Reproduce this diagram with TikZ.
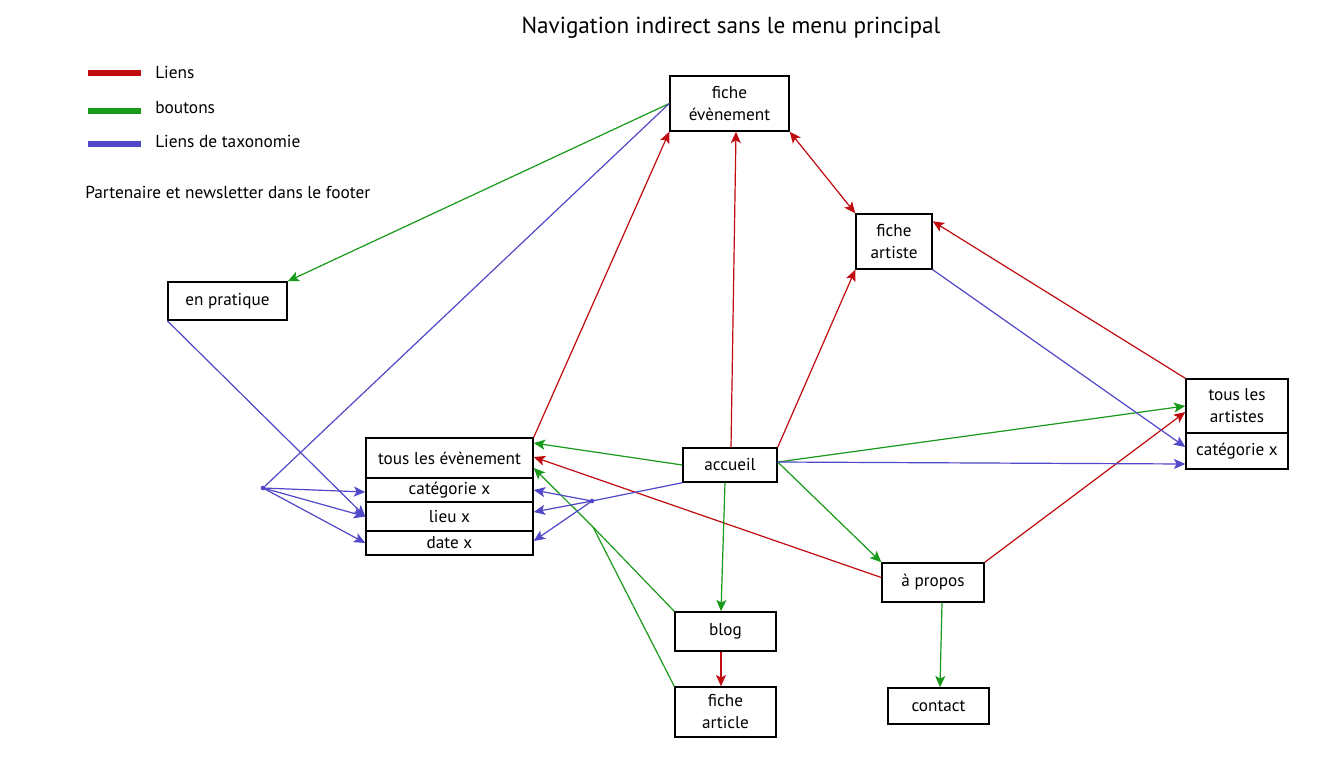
\documentclass[tikz,border=0pt]{standalone}
\usepackage{fontspec}
\setmainfont{PT Sans}
\usetikzlibrary{arrows.meta,calc}
\definecolor{lred}{RGB}{192,12,16}
\definecolor{lgreen}{RGB}{26,154,26}
\definecolor{lblue}{RGB}{80,72,200}
\tikzset{
  box/.style={draw=black,line width=1.1pt,fill=white,inner sep=0pt,align=center,font=\fontsize{12.9}{16.5}\selectfont},
  tip/.style={-{Stealth[length=8.5pt,width=7.5pt,inset=2pt]}},
  dtip/.style={{Stealth[length=8.5pt,width=7.5pt,inset=2pt]}-{Stealth[length=8.5pt,width=7.5pt,inset=2pt]}},
  rl/.style={draw=lred,line width=0.9pt},
  gl/.style={draw=lgreen,line width=0.9pt},
  bl/.style={draw=lblue,line width=0.9pt},
  rtip/.style={rl,tip,fill=lred},
  gtip/.style={gl,tip,fill=lgreen},
  btip/.style={bl,tip,fill=lblue},
  legtext/.style={anchor=west,inner sep=0pt,font=\fontsize{13}{15}\selectfont},
  dot/.style={circle,fill=lblue,inner sep=0pt,minimum size=3.5pt}
}
\begin{document}
\begin{tikzpicture}[x=0.75pt,y=-0.75pt]
\useasboundingbox (0,0) rectangle (1325,761);
% title
\node[inner sep=0pt,font=\fontsize{17.4}{20}\selectfont] (title) at (731,28) {Navigation indirect sans le menu principal};
% legend
\draw[lred,line width=5pt] (88,73) -- (141,73) coordinate (lr);
\draw[lgreen,line width=5pt] (88,111) -- (141,111) coordinate (lg);
\draw[lblue,line width=5pt] (88,144) -- (141,144) coordinate (lb);
\node[legtext] (l1) at (155,72) {Liens};
\node[legtext] (l2) at (155,108) {boutons};
\node[legtext] (l3) at (155,141) {Liens de taxonomie};
\node[legtext] (l4) at (85,192) {Partenaire et newsletter dans le footer};
% nodes
\node[box,minimum width=119*0.75pt,minimum height=55*0.75pt] (fe) at (729.5,103.5) {fiche\\évènement};
\node[box,minimum width=76*0.75pt,minimum height=55*0.75pt] (fa) at (894,241.5) {fiche\\artiste};
\node[box,minimum width=119*0.75pt,minimum height=38*0.75pt] (ep) at (227.5,301) {en pratique};
\node[box,minimum width=167*0.75pt,minimum height=40*0.75pt] (tle) at (449.5,458) {tous les évènement};
\node[box,minimum width=167*0.75pt,minimum height=24*0.75pt] (cat) at (449.5,490) {catégorie x};
\node[box,minimum width=167*0.75pt,minimum height=29*0.75pt] (lieu) at (449.5,516.5) {lieu x};
\node[box,minimum width=167*0.75pt,minimum height=24*0.75pt] (date) at (449.5,543) {date x};
\node[box,minimum width=94*0.75pt,minimum height=34*0.75pt] (acc) at (730,465) {accueil};
\node[box,minimum width=102*0.75pt,minimum height=54*0.75pt] (ta) at (1237,406) {tous les\\artistes};
\node[box,minimum width=102*0.75pt,minimum height=36*0.75pt] (tac) at (1237,451) {catégorie x};
\node[box,minimum width=102*0.75pt,minimum height=39*0.75pt] (ap) at (933,582.5) {à propos};
\node[box,minimum width=101*0.75pt,minimum height=36*0.75pt] (ct) at (938.5,706) {contact};
\node[box,minimum width=101*0.75pt,minimum height=39*0.75pt] (blog) at (725.5,631.5) {blog};
\node[box,minimum width=101*0.75pt,minimum height=50*0.75pt] (fart) at (725.5,712) {fiche\\article};
% junctions
\coordinate (jb1) at (263,488);
\coordinate (jb2) at (592,501);
\coordinate (jg) at (593,527);
% red links
\draw[rtip] (tle.north east) -- (fe.south west);
\draw[rtip] ([shift={(1,0)}]acc.north) -- ([shift={(6.5,0)}]fe.south);
\draw[rl,dtip,fill=lred] (fe.south east) -- (fa.north west);
\draw[rtip] (acc.north east) -- (fa.south west);
\draw[rtip] (ta.north west) -- ([shift={(0,8)}]fa.north east);
\draw[rtip] ([shift={(0,-5)}]ap.west) -- ([shift={(0,-1)}]tle.east);
\draw[rtip] (ap.north east) -- ([shift={(0,6)}]ta.west);
\draw[rtip] ([shift={(-4.5,0)}]blog.south) -- ([shift={(-4.5,0)}]fart.north);
% green buttons
\draw[gtip] (fe.west) -- (ep.north east);
\draw[gtip] (acc.west) -- ([shift={(0,-15)}]tle.east);
\draw[gtip] ([shift={(0,-3)}]acc.east) -- (ta.west);
\draw[gtip] ([shift={(0,-3)}]acc.east) -- (ap.north west);
\draw[gtip] ([shift={(-5,0)}]acc.south) -- ([shift={(-4.5,0)}]blog.north);
\draw[gl] (blog.north west) -- (jg);
\draw[gl] (fart.north west) -- (jg);
\draw[gtip] (jg) -- ([shift={(0,10)}]tle.east);
\draw[gtip] ([shift={(9,0)}]ap.south) -- ([shift={(1.5,0)}]ct.north);
% blue taxonomy
\draw[bl] (fe.west) -- (jb1);
\draw[btip] (jb1) -- ([shift={(0,2)}]cat.west);
\draw[btip] (jb1) -- (lieu.west);
\draw[btip] (jb1) -- (date.west);
\draw[btip] (ep.south west) -- (lieu.west);
\draw[bl] (acc.south west) -- (jb2);
\draw[btip] (jb2) -- (cat.east);
\draw[btip] (jb2) -- ([shift={(0,-4.5)}]lieu.east);
\draw[btip] (jb2) -- ([shift={(0,-2)}]date.east);
\draw[btip] (fa.south east) -- ([shift={(0,-4)}]tac.west);
\draw[btip] ([shift={(0,-3)}]acc.east) -- ([shift={(0,13)}]tac.west);
\node[dot] (d1) at (jb1) {};
\node[dot] (d2) at (jb2) {};
\end{tikzpicture}
\end{document}
